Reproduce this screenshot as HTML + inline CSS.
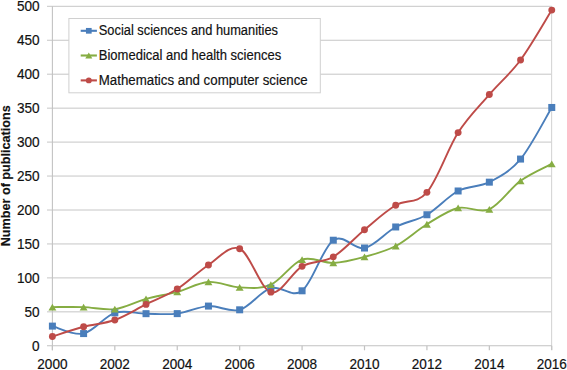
<!DOCTYPE html>
<html><head><meta charset="utf-8"><style>
html,body{margin:0;padding:0;background:#fff;}
body{width:567px;height:370px;overflow:hidden;}
svg{display:block;}
text{font-family:"Liberation Sans",sans-serif;fill:#111;stroke:#111;stroke-width:0.18px;}
.n{font-size:14.3px;}
.l{font-size:14px;}
.t{font-size:12.7px;font-weight:bold;}
</style></head><body>
<svg width="567" height="370" viewBox="0 0 567 370">
<rect width="567" height="370" fill="#fff"/>
<line x1="47" y1="311.85" x2="551.76" y2="311.85" stroke="#c6c6c6" stroke-width="1.0"/>
<line x1="47" y1="277.90" x2="551.76" y2="277.90" stroke="#c6c6c6" stroke-width="1.0"/>
<line x1="47" y1="243.95" x2="551.76" y2="243.95" stroke="#c6c6c6" stroke-width="1.0"/>
<line x1="47" y1="210.00" x2="551.76" y2="210.00" stroke="#c6c6c6" stroke-width="1.0"/>
<line x1="47" y1="176.05" x2="551.76" y2="176.05" stroke="#c6c6c6" stroke-width="1.0"/>
<line x1="47" y1="142.10" x2="551.76" y2="142.10" stroke="#c6c6c6" stroke-width="1.0"/>
<line x1="47" y1="108.15" x2="551.76" y2="108.15" stroke="#c6c6c6" stroke-width="1.0"/>
<line x1="47" y1="74.20" x2="551.76" y2="74.20" stroke="#c6c6c6" stroke-width="1.0"/>
<line x1="47" y1="40.25" x2="551.76" y2="40.25" stroke="#c6c6c6" stroke-width="1.0"/>
<line x1="47" y1="6.30" x2="551.76" y2="6.30" stroke="#c6c6c6" stroke-width="1.0"/>
<line x1="551.6" y1="6" x2="551.6" y2="350" stroke="#d6d6d6" stroke-width="1.1"/>
<line x1="47" y1="345.80" x2="551.76" y2="345.80" stroke="#c2c2c2" stroke-width="1.1"/>
<line x1="52.40" y1="345.80" x2="52.40" y2="350.30" stroke="#c2c2c2" stroke-width="1.2"/>
<line x1="114.82" y1="345.80" x2="114.82" y2="350.30" stroke="#c2c2c2" stroke-width="1.2"/>
<line x1="177.24" y1="345.80" x2="177.24" y2="350.30" stroke="#c2c2c2" stroke-width="1.2"/>
<line x1="239.66" y1="345.80" x2="239.66" y2="350.30" stroke="#c2c2c2" stroke-width="1.2"/>
<line x1="302.08" y1="345.80" x2="302.08" y2="350.30" stroke="#c2c2c2" stroke-width="1.2"/>
<line x1="364.50" y1="345.80" x2="364.50" y2="350.30" stroke="#c2c2c2" stroke-width="1.2"/>
<line x1="426.92" y1="345.80" x2="426.92" y2="350.30" stroke="#c2c2c2" stroke-width="1.2"/>
<line x1="489.34" y1="345.80" x2="489.34" y2="350.30" stroke="#c2c2c2" stroke-width="1.2"/>
<line x1="551.76" y1="345.80" x2="551.76" y2="350.30" stroke="#c2c2c2" stroke-width="1.2"/>
<line x1="52.40" y1="6.30" x2="52.40" y2="350.30" stroke="#c2c2c2" stroke-width="1.1"/>
<text x="39.6" y="350.50" text-anchor="end" class="n" textLength="7.56" lengthAdjust="spacingAndGlyphs">0</text>
<text x="39.6" y="316.55" text-anchor="end" class="n" textLength="15.12" lengthAdjust="spacingAndGlyphs">50</text>
<text x="39.6" y="282.60" text-anchor="end" class="n" textLength="22.68" lengthAdjust="spacingAndGlyphs">100</text>
<text x="39.6" y="248.65" text-anchor="end" class="n" textLength="22.68" lengthAdjust="spacingAndGlyphs">150</text>
<text x="39.6" y="214.70" text-anchor="end" class="n" textLength="22.68" lengthAdjust="spacingAndGlyphs">200</text>
<text x="39.6" y="180.75" text-anchor="end" class="n" textLength="22.68" lengthAdjust="spacingAndGlyphs">250</text>
<text x="39.6" y="146.80" text-anchor="end" class="n" textLength="22.68" lengthAdjust="spacingAndGlyphs">300</text>
<text x="39.6" y="112.85" text-anchor="end" class="n" textLength="22.68" lengthAdjust="spacingAndGlyphs">350</text>
<text x="39.6" y="78.90" text-anchor="end" class="n" textLength="22.68" lengthAdjust="spacingAndGlyphs">400</text>
<text x="39.6" y="44.95" text-anchor="end" class="n" textLength="22.68" lengthAdjust="spacingAndGlyphs">450</text>
<text x="39.6" y="11.00" text-anchor="end" class="n" textLength="22.68" lengthAdjust="spacingAndGlyphs">500</text>
<text x="52.40" y="369.2" text-anchor="middle" class="n" textLength="30.2" lengthAdjust="spacingAndGlyphs">2000</text>
<text x="114.82" y="369.2" text-anchor="middle" class="n" textLength="30.2" lengthAdjust="spacingAndGlyphs">2002</text>
<text x="177.24" y="369.2" text-anchor="middle" class="n" textLength="30.2" lengthAdjust="spacingAndGlyphs">2004</text>
<text x="239.66" y="369.2" text-anchor="middle" class="n" textLength="30.2" lengthAdjust="spacingAndGlyphs">2006</text>
<text x="302.08" y="369.2" text-anchor="middle" class="n" textLength="30.2" lengthAdjust="spacingAndGlyphs">2008</text>
<text x="364.50" y="369.2" text-anchor="middle" class="n" textLength="30.2" lengthAdjust="spacingAndGlyphs">2010</text>
<text x="426.92" y="369.2" text-anchor="middle" class="n" textLength="30.2" lengthAdjust="spacingAndGlyphs">2012</text>
<text x="489.34" y="369.2" text-anchor="middle" class="n" textLength="30.2" lengthAdjust="spacingAndGlyphs">2014</text>
<text x="551.76" y="369.2" text-anchor="middle" class="n" textLength="30.2" lengthAdjust="spacingAndGlyphs">2016</text>
<text transform="translate(9.7,175.8) rotate(-90)" text-anchor="middle" class="t" textLength="141" lengthAdjust="spacingAndGlyphs">Number of publications</text>
<path d="M52.40,326.11 C57.60,327.35 73.21,335.78 83.61,333.58 C94.01,331.37 104.42,316.18 114.82,312.87 C125.22,309.55 135.63,313.56 146.03,313.68 C156.43,313.81 166.84,314.88 177.24,313.62 C187.64,312.35 198.05,306.71 208.45,306.08 C218.85,305.44 229.26,312.81 239.66,309.81 C250.06,306.81 260.47,291.25 270.87,288.09 C281.27,284.92 291.68,298.78 302.08,290.80 C312.48,282.82 322.89,247.35 333.29,240.22 C343.69,233.09 354.10,250.23 364.50,248.02 C374.90,245.82 385.31,232.52 395.71,226.98 C406.11,221.43 416.52,220.75 426.92,214.75 C437.32,208.76 447.73,196.42 458.13,190.99 C468.53,185.56 478.94,187.48 489.34,182.16 C499.74,176.84 510.15,171.52 520.55,159.07 C530.95,146.63 546.56,116.07 551.76,107.47" fill="none" stroke="#4a7ebb" stroke-width="1.9" stroke-linejoin="round"/>
<path d="M52.40,307.10 C57.60,307.10 73.21,306.76 83.61,307.10 C94.01,307.44 104.42,310.49 114.82,309.13 C125.22,307.78 135.63,301.83 146.03,298.95 C156.43,296.06 166.84,294.65 177.24,291.82 C187.64,288.99 198.05,282.71 208.45,281.97 C218.85,281.24 229.26,286.95 239.66,287.41 C250.06,287.86 260.47,289.33 270.87,284.69 C281.27,280.05 291.68,263.19 302.08,259.57 C312.48,255.95 322.89,263.41 333.29,262.96 C343.69,262.51 354.10,259.68 364.50,256.85 C374.90,254.02 385.31,251.42 395.71,245.99 C406.11,240.56 416.52,230.60 426.92,224.26 C437.32,217.92 447.73,210.45 458.13,207.96 C468.53,205.47 478.94,213.85 489.34,209.32 C499.74,204.79 510.15,188.39 520.55,180.80 C530.95,173.22 546.56,166.66 551.76,163.83" fill="none" stroke="#86ad43" stroke-width="1.9" stroke-linejoin="round"/>
<path d="M52.40,336.43 C57.60,334.82 73.21,329.53 83.61,326.79 C94.01,324.05 104.42,323.73 114.82,320.00 C125.22,316.26 135.63,309.54 146.03,304.38 C156.43,299.22 166.84,295.60 177.24,289.04 C187.64,282.47 198.05,271.72 208.45,265.00 C218.85,258.28 229.26,244.18 239.66,248.70 C250.06,253.23 260.47,289.22 270.87,292.16 C281.27,295.10 291.68,272.24 302.08,266.36 C312.48,260.47 322.89,262.96 333.29,256.85 C343.69,250.74 354.10,238.29 364.50,229.69 C374.90,221.09 385.31,211.47 395.71,205.25 C406.11,199.02 416.52,204.45 426.92,192.35 C437.32,180.24 447.73,148.89 458.13,132.59 C468.53,116.30 478.94,106.68 489.34,94.57 C499.74,82.46 510.15,74.02 520.55,59.94 C530.95,45.86 546.56,18.41 551.76,10.10" fill="none" stroke="#be4b48" stroke-width="1.9" stroke-linejoin="round"/>
<rect x="48.90" y="322.61" width="7.0" height="7.0" fill="#4a7ebb"/>
<rect x="80.11" y="330.08" width="7.0" height="7.0" fill="#4a7ebb"/>
<rect x="111.32" y="309.37" width="7.0" height="7.0" fill="#4a7ebb"/>
<rect x="142.53" y="310.18" width="7.0" height="7.0" fill="#4a7ebb"/>
<rect x="173.74" y="310.12" width="7.0" height="7.0" fill="#4a7ebb"/>
<rect x="204.95" y="302.58" width="7.0" height="7.0" fill="#4a7ebb"/>
<rect x="236.16" y="306.31" width="7.0" height="7.0" fill="#4a7ebb"/>
<rect x="267.37" y="284.59" width="7.0" height="7.0" fill="#4a7ebb"/>
<rect x="298.58" y="287.30" width="7.0" height="7.0" fill="#4a7ebb"/>
<rect x="329.79" y="236.72" width="7.0" height="7.0" fill="#4a7ebb"/>
<rect x="361.00" y="244.52" width="7.0" height="7.0" fill="#4a7ebb"/>
<rect x="392.21" y="223.48" width="7.0" height="7.0" fill="#4a7ebb"/>
<rect x="423.42" y="211.25" width="7.0" height="7.0" fill="#4a7ebb"/>
<rect x="454.63" y="187.49" width="7.0" height="7.0" fill="#4a7ebb"/>
<rect x="485.84" y="178.66" width="7.0" height="7.0" fill="#4a7ebb"/>
<rect x="517.05" y="155.57" width="7.0" height="7.0" fill="#4a7ebb"/>
<rect x="548.26" y="103.97" width="7.0" height="7.0" fill="#4a7ebb"/>
<path d="M52.40,303.70 L56.35,310.49 L48.45,310.49Z" fill="#86ad43"/>
<path d="M83.61,303.70 L87.56,310.49 L79.66,310.49Z" fill="#86ad43"/>
<path d="M114.82,305.74 L118.77,312.53 L110.87,312.53Z" fill="#86ad43"/>
<path d="M146.03,295.55 L149.98,302.35 L142.08,302.35Z" fill="#86ad43"/>
<path d="M177.24,288.42 L181.19,295.22 L173.29,295.22Z" fill="#86ad43"/>
<path d="M208.45,278.58 L212.40,285.37 L204.50,285.37Z" fill="#86ad43"/>
<path d="M239.66,284.01 L243.61,290.80 L235.71,290.80Z" fill="#86ad43"/>
<path d="M270.87,281.29 L274.82,288.09 L266.92,288.09Z" fill="#86ad43"/>
<path d="M302.08,256.17 L306.03,262.96 L298.13,262.96Z" fill="#86ad43"/>
<path d="M333.29,259.56 L337.24,266.36 L329.34,266.36Z" fill="#86ad43"/>
<path d="M364.50,253.45 L368.45,260.25 L360.55,260.25Z" fill="#86ad43"/>
<path d="M395.71,242.59 L399.66,249.38 L391.76,249.38Z" fill="#86ad43"/>
<path d="M426.92,220.86 L430.87,227.66 L422.97,227.66Z" fill="#86ad43"/>
<path d="M458.13,204.57 L462.08,211.36 L454.18,211.36Z" fill="#86ad43"/>
<path d="M489.34,205.92 L493.29,212.72 L485.39,212.72Z" fill="#86ad43"/>
<path d="M520.55,177.41 L524.50,184.20 L516.60,184.20Z" fill="#86ad43"/>
<path d="M551.76,160.43 L555.71,167.22 L547.81,167.22Z" fill="#86ad43"/>
<circle cx="52.40" cy="336.43" r="3.45" fill="#be4b48"/>
<circle cx="83.61" cy="326.79" r="3.45" fill="#be4b48"/>
<circle cx="114.82" cy="320.00" r="3.45" fill="#be4b48"/>
<circle cx="146.03" cy="304.38" r="3.45" fill="#be4b48"/>
<circle cx="177.24" cy="289.04" r="3.45" fill="#be4b48"/>
<circle cx="208.45" cy="265.00" r="3.45" fill="#be4b48"/>
<circle cx="239.66" cy="248.70" r="3.45" fill="#be4b48"/>
<circle cx="270.87" cy="292.16" r="3.45" fill="#be4b48"/>
<circle cx="302.08" cy="266.36" r="3.45" fill="#be4b48"/>
<circle cx="333.29" cy="256.85" r="3.45" fill="#be4b48"/>
<circle cx="364.50" cy="229.69" r="3.45" fill="#be4b48"/>
<circle cx="395.71" cy="205.25" r="3.45" fill="#be4b48"/>
<circle cx="426.92" cy="192.35" r="3.45" fill="#be4b48"/>
<circle cx="458.13" cy="132.59" r="3.45" fill="#be4b48"/>
<circle cx="489.34" cy="94.57" r="3.45" fill="#be4b48"/>
<circle cx="520.55" cy="59.94" r="3.45" fill="#be4b48"/>
<circle cx="551.76" cy="10.10" r="3.45" fill="#be4b48"/>
<rect x="68.9" y="18.5" width="251.4" height="74.3" fill="#fff" stroke="#d0d0d0" stroke-width="1"/>
<line x1="80.7" y1="30.8" x2="96.9" y2="30.8" stroke="#4a7ebb" stroke-width="2.1"/>
<rect x="85.95" y="27.95" width="5.7" height="5.7" fill="#4a7ebb"/>
<text x="98.8" y="34.90" class="l" textLength="179.2" lengthAdjust="spacingAndGlyphs">Social sciences and humanities</text>
<line x1="80.7" y1="55.5" x2="96.9" y2="55.5" stroke="#86ad43" stroke-width="2.1"/>
<path d="M88.80,52.49 L92.30,58.51 L85.30,58.51Z" fill="#86ad43"/>
<text x="98.8" y="59.60" class="l" textLength="182.4" lengthAdjust="spacingAndGlyphs">Biomedical and health sciences</text>
<line x1="80.7" y1="80.4" x2="96.9" y2="80.4" stroke="#be4b48" stroke-width="2.1"/>
<circle cx="88.80" cy="80.40" r="2.95" fill="#be4b48"/>
<text x="98.8" y="84.90" class="l" textLength="208.9" lengthAdjust="spacingAndGlyphs">Mathematics and computer science</text>
</svg>
</body></html>
